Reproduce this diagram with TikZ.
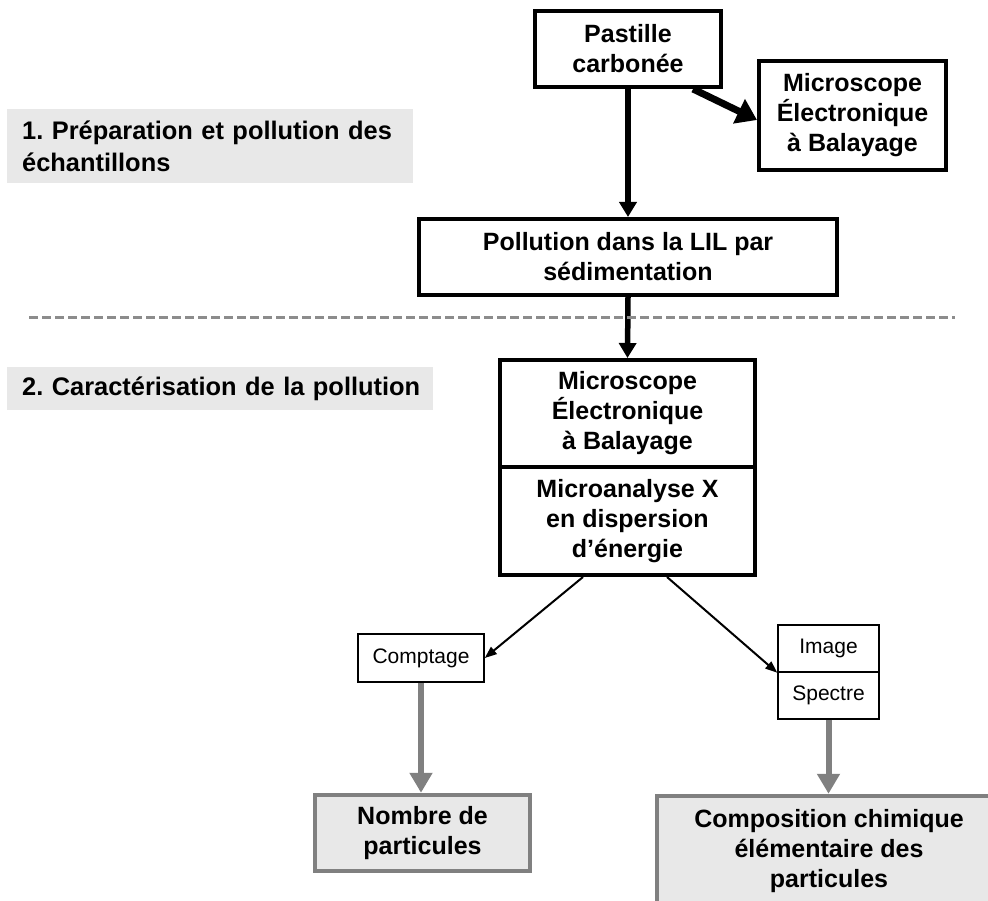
\documentclass[tikz,border=0pt]{standalone}
\usepackage{fontspec}
\setmainfont{Liberation Sans}
\usetikzlibrary{arrows.meta,calc}
\frenchspacing

\definecolor{linegray}{HTML}{808080}
\definecolor{fillgray}{HTML}{E8E8E8}
\definecolor{dashgray}{HTML}{8C8C8C}

\tikzset{
  boldtext/.style={font=\bfseries\fontsize{25}{30}\selectfont},
  blackbox/.style={boldtext, draw=black, line width=4pt, fill=white, align=center, inner sep=0pt},
  smallbox/.style={draw=black, line width=1.5pt, fill=white, inner sep=0pt,
                   font=\fontsize{21}{25}\selectfont},
  resultbox/.style={boldtext, draw=linegray, line width=4.5pt, fill=fillgray, align=center, inner sep=0pt},
  sectionlabel/.style={font=\bfseries\fontsize{25.4}{32}\selectfont, fill=fillgray, anchor=north west,
                       align=left, inner xsep=15pt, inner ysep=0pt},
  mainflow/.style={draw=black, line width=5.5pt, -{Triangle[width=17pt,length=15pt]}},
  sideflow/.style={draw=black, line width=7pt, -{Triangle[width=26pt,length=20pt]}},
  thinflow/.style={draw=black, line width=2pt, -{Triangle[width=9pt,length=12pt]}},
  resultflow/.style={draw=linegray, line width=6pt, -{Triangle[width=22pt,length=20pt]}},
  divider/.style={draw=dashgray, line width=3pt, dash pattern=on 8.5pt off 4.5pt}
}

\begin{document}
\begin{tikzpicture}[x=1pt,y=-1pt]
  \useasboundingbox (0,0) rectangle (988,901);
  \clip (0,0) rectangle (988,901);

  % section headings
  \node[sectionlabel, minimum width=406pt, minimum height=74pt, text width=376pt]
    (sec1) at (7,109) {\mbox{1. Préparation et pollution des}\\échantillons};
  \node[sectionlabel, minimum width=426pt, minimum height=43pt, text width=396pt]
    (sec2) at (7,367) {\mbox{2. Caractérisation de la pollution}};

  % sample preparation
  \node[blackbox, minimum width=186pt, minimum height=76pt] (past) at (628,49)
    {Pastille\\carbonée};
  \node[blackbox, minimum width=187pt, minimum height=109pt] (mic1) at (852.5,115.5)
    {Microscope\\Électronique\\à Balayage};
  \node[blackbox, minimum width=418pt, minimum height=76pt] (poll) at (628,257)
    {Pollution dans la LIL par\\sédimentation};

  % characterisation
  \node[blackbox, minimum width=255pt, minimum height=107pt] (meb1) at (627.5,413.5)
    {Microscope\\Électronique\\à Balayage};
  \node[blackbox, minimum width=255pt, minimum height=108pt] (meb2) at (627.5,521)
    {Microanalyse X\\en dispersion\\d’énergie};

  \node[smallbox, minimum width=126pt, minimum height=48pt] (comp) at (421,658) {Comptage};
  \node[smallbox, minimum width=101pt, minimum height=47pt] (img) at (828.5,648.5) {Image};
  \node[smallbox, minimum width=101pt, minimum height=47pt] (spec) at (828.5,695.5) {Spectre};

  \node[resultbox, minimum width=215pt, minimum height=76pt] (nomb) at (422.5,833)
    {Nombre de\\particules};
  \node[resultbox, minimum width=344pt, minimum height=110pt] (compo) at (829,851)
    {Composition chimique\\élémentaire des\\particules};

  % connectors
  \draw[mainflow] (past.south) -- (poll.north);
  \draw[sideflow] ([xshift=-30pt]past.south east) -- ([yshift=-4.5pt]mic1.west);
  \draw[mainflow] (poll.south) -- (meb1.north);
  \draw[thinflow] ([xshift=-44.5pt]meb2.south) -- (comp.east);
  \draw[thinflow] ([xshift=39.5pt]meb2.south) -- (img.south west);
  \draw[resultflow] (comp.south) -- (comp.south |- nomb.north);
  \draw[resultflow] (spec.south) -- (spec.south |- compo.north);

  % boundary between the two stages
  \coordinate (divL) at (29,318);
  \coordinate (divR) at (955,318);
  \draw[divider] (divL) -- (divR);
\end{tikzpicture}
\end{document}
